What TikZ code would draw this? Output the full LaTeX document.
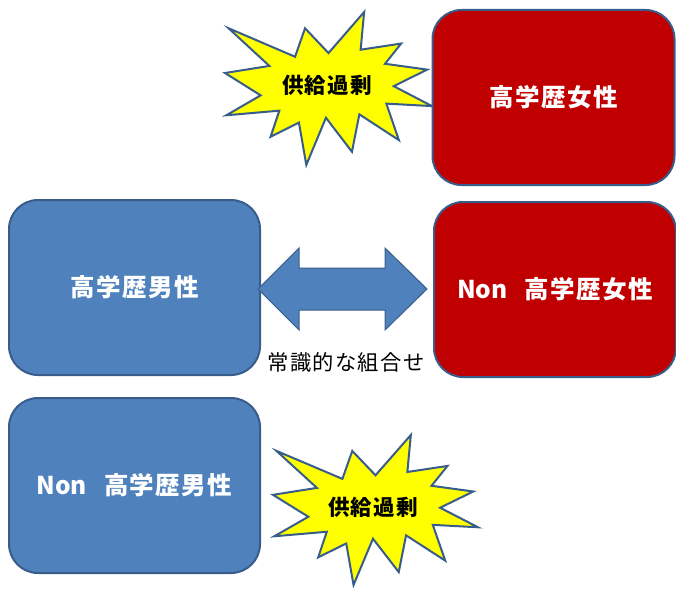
\documentclass[tikz,border=0pt]{standalone}
\usepackage{fontspec}
\newfontfamily\cjk[LetterSpace=6]{Noto Sans CJK JP}
\newfontfamily\cjklat{Noto Sans CJK JP}
\definecolor{edgeblue}{HTML}{385D8A}
\definecolor{boxblue}{HTML}{4F81BD}
\definecolor{boxred}{HTML}{C00000}
\definecolor{staryellow}{HTML}{FFFF00}
\tikzset{
  card/.style={draw=edgeblue, line width=2pt, rounded corners=29pt, minimum width=242pt, minimum height=175pt, text=white, font=\cjk\bfseries\fontsize{24.5}{28}\selectfont, inner sep=0pt},
  bluecard/.style={card, fill=boxblue, minimum width=251pt},
  redcard/.style={card, fill=boxred},
  starfill/.style={draw=edgeblue, line width=2pt, fill=staryellow, line join=miter},
  startext/.style={font=\cjk\bfseries\fontsize{21.5}{25}\selectfont, text=black, inner sep=0pt},
  labeltext/.style={font=\cjk\fontsize{21.3}{25}\selectfont, text=black, inner sep=0pt},
  blockarrow/.style={draw=edgeblue, line width=1pt, fill=boxblue, line join=miter}
}
\newcommand\sealpath{(10800,5800) -- (14522,0) -- (14155,5325) -- (18380,4457) -- (16702,7315) -- (21097,8137) -- (17607,10475) -- (21600,13290) -- (16837,12942) -- (18145,18095) -- (14020,14457) -- (13247,19737) -- (10532,14935) -- (8485,21600) -- (7715,15627) -- (4762,17617) -- (5667,13937) -- (135,14587) -- (3722,11775) -- (0,8615) -- (4627,7617) -- (370,2295) -- (7312,6320) -- (8352,2295) -- cycle}
\newcommand\nonword{{\cjklat\bfseries Non}\hspace{17pt}}
\begin{document}
\begin{tikzpicture}[x=1pt, y=-1pt]
\useasboundingbox (0,0) rectangle (676,588);
% starbursts
\begin{scope}[shift={(225,12)}, x={(0.009583pt,0pt)}, y={(0pt,-0.007083pt)}]
  \path[starfill] \sealpath;
\end{scope}
\begin{scope}[shift={(273,435)}, x={(0.009491pt,0pt)}, y={(0pt,-0.006944pt)}]
  \path[starfill] \sealpath;
\end{scope}
\node[startext] (s1) at (327,85) {供給過剰};
\node[startext] (s2) at (373,507) {供給過剰};
% boxes
\node[redcard] (hf) at (553.5,97.5) {高学歴女性};
\node[bluecard] (hm) at (134.5,287.5) {高学歴男性};
\node[redcard] (nf) at (555,289.5) {\nonword 高学歴女性};
\node[bluecard] (nm) at (134.5,485.5) {\nonword 高学歴男性};
% double block arrow
\coordinate (la) at (258,289);
\coordinate (ra) at (427,289);
\path[blockarrow] (la) -- ++(41,-41) -- ++(0,20) -- ++(86,0) -- ++(0,-20) -- (ra) -- ++(-42,41) -- ++(0,-20) -- ++(-86,0) -- ++(0,20) -- cycle;
\node[labeltext] (lab) at (346,362) {常識的な組合せ};
\end{tikzpicture}
\end{document}
